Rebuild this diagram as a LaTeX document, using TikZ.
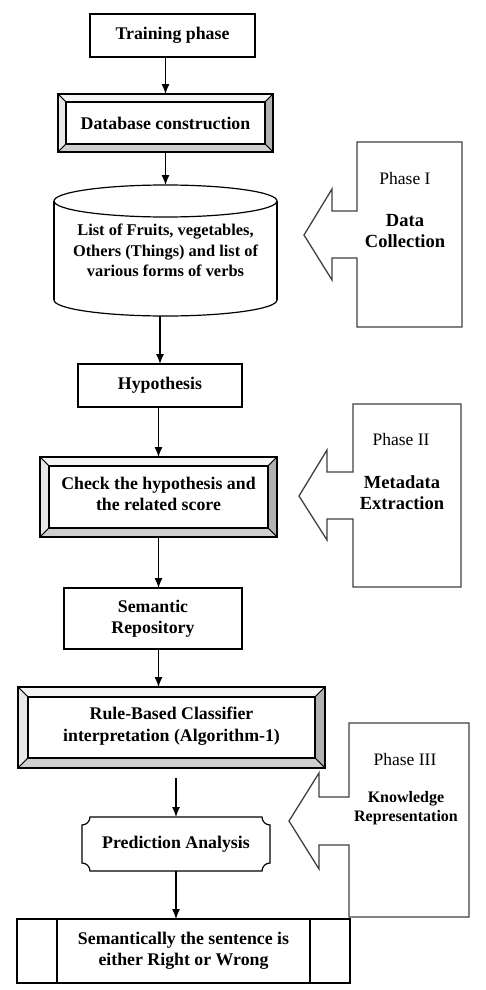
\documentclass[tikz,border=0pt]{standalone}
\usepackage{fontspec}
\setmainfont{Liberation Serif}
\usetikzlibrary{calc,arrows.meta}
\newcommand\bevelframe[2]{%
  \filldraw[fill=gray!8,line width=0.8pt] (#1.north west) -- (#1.north east) -- ($(#1.north east)+(-#2,#2)$) -- ($(#1.north west)+(#2,#2)$) -- cycle;
  \filldraw[fill=gray!18,line width=0.8pt] (#1.north west) -- ($(#1.north west)+(#2,#2)$) -- ($(#1.south west)+(#2,-#2)$) -- (#1.south west) -- cycle;
  \filldraw[fill=gray!60,line width=0.8pt] (#1.north east) -- (#1.south east) -- ($(#1.south east)+(-#2,-#2)$) -- ($(#1.north east)+(-#2,#2)$) -- cycle;
  \filldraw[fill=gray!38,line width=0.8pt] (#1.south west) -- ($(#1.south west)+(#2,-#2)$) -- ($(#1.south east)+(-#2,-#2)$) -- (#1.south east) -- cycle;
  \draw[line width=1.2pt] (#1.north west) rectangle (#1.south east);
  \draw[line width=1.2pt] ($(#1.north west)+(#2,#2)$) rectangle ($(#1.south east)+(-#2,-#2)$);
}
\begin{document}
\begin{tikzpicture}[x=1pt,y=-1pt,
  box/.style={draw,line width=1.2pt,inner sep=0pt,outer sep=0pt,align=center,font=\fontsize{17.8}{21.5}\selectfont\bfseries},
  plainbox/.style={inner sep=0pt,outer sep=0pt,align=center,font=\fontsize{17.8}{21.5}\selectfont\bfseries},
  arr/.style={line width=1.2pt,-{Latex[length=10pt,width=8pt]}},
  callout/.style={draw=black!75,line width=1.3pt,line join=miter,fill=white},
  phaselbl/.style={inner sep=0pt,align=center,font=\fontsize{17.5}{20}\selectfont},
  phasebig/.style={inner sep=0pt,align=center,font=\fontsize{18.5}{21}\selectfont\bfseries},
  phasesmall/.style={inner sep=0pt,align=center,font=\fontsize{16}{19}\selectfont\bfseries}
]
\useasboundingbox (0,0) rectangle (485,990);

% callouts
\path[callout] (357,211) -- (357,142) -- (462,142) -- (462,327) -- (357,327) -- (357,258) -- (332,258) -- (332,280) -- (304,235) -- (332,189) -- (332,211) -- cycle;
\path[callout] (353,472) -- (353,404) -- (461,404) -- (461,587) -- (353,587) -- (353,519) -- (327,519) -- (327,540) -- (299,496) -- (327,450) -- (327,472) -- cycle;
\path[callout] (349,797) -- (349,723) -- (469,723) -- (469,917) -- (349,917) -- (349,845) -- (319,845) -- (319,869) -- (289,821) -- (319,773) -- (319,797) -- cycle;

\node[phaselbl] (p1) at (405,179) {Phase I};
\node[phasebig] (p1b) at (405,231) {Data\\Collection};
\node[phaselbl] (p2) at (401,440) {Phase II};
\node[phasebig] (p2b) at (402,493) {Metadata\\Extraction};
\node[phaselbl] (p3) at (405,760) {Phase III};
\node[phasesmall] (p3b) at (406,808.5) {Knowledge\\Representation};

% main flow
\node[box, minimum width=165, minimum height=43] (train) at (172.5,35.5) {Training phase};

\node[box, minimum width=215, minimum height=58] (db) at (165.5,123) {};
\bevelframe{db}{8}
\node[plainbox] (dbt) at (db.center) {Database construction};

\node[plainbox, minimum width=223, minimum height=131, font=\fontsize{16.4}{20.5}\selectfont\bfseries] (cyl) at (165.5,250.5) {List of Fruits, vegetables,\\Others (Things) and list of\\various forms of verbs};
\draw[line width=1.2pt] (54,201) -- (54,300);
\draw[line width=1.2pt] (277,201) -- (277,300);
\draw[line width=1.2pt] (165.5,201) ellipse [x radius=111.5, y radius=16];
\begin{scope}
  \clip (40,300) rectangle (300,330);
  \draw[line width=1.2pt] (165.5,300) ellipse [x radius=111.5, y radius=16];
\end{scope}

\node[box, minimum width=164, minimum height=43] (hyp) at (160,385.5) {Hypothesis};

\node[box, minimum width=237, minimum height=80] (check) at (158.5,497) {};
\bevelframe{check}{9}
\node[plainbox] (checkt) at (158.5,494) {Check the hypothesis and\\the related score};

\node[box, minimum width=178, minimum height=61] (sem) at (153,618.5) {Semantic\\Repository};

\node[box, minimum width=307, minimum height=81] (rule) at (171.5,727.5) {};
\bevelframe{rule}{10}
\node[plainbox] (rulet) at (171.5,726) {Rule-Based Classifier\\interpretation (Algorithm-1)};

\node[plainbox, minimum width=188, minimum height=54] (pred) at (176,844) {Prediction Analysis};
\draw[line width=1.2pt] (90,817) -- (262,817) .. controls (262,821.4) and (265.6,825) .. (270,825) -- (270,863) .. controls (265.6,863) and (262,866.6) .. (262,871) -- (90,871) .. controls (90,866.6) and (86.4,863) .. (82,863) -- (82,825) .. controls (86.4,825) and (90,821.4) .. (90,817) -- cycle;

\node[box, minimum width=333, minimum height=64] (final) at (183.5,951) {Semantically the sentence is\\either Right or Wrong};
\draw[line width=1.2pt] ($(final.north west)+(40,0)$) -- ($(final.south west)+(40,0)$);
\draw[line width=1.2pt] ($(final.north east)+(-40,0)$) -- ($(final.south east)+(-40,0)$);

% connectors
\draw[arr] (db.north |- train.south) -- (db.north);
\draw[arr] (db.south) -- (cyl.north);
\draw[arr] (hyp.north |- cyl.south) -- (hyp.north);
\draw[arr] (check.north |- hyp.south) -- (check.north);
\draw[arr] (check.south) -- (check.south |- sem.north);
\draw[arr] (sem.south -| check.south) -- (rule.north -| check.south);
\draw[arr] ([yshift=-10pt]rule.south -| pred.north) -- (pred.north);
\draw[arr] (pred.south) -- (pred.south |- final.north);
\end{tikzpicture}
\end{document}
